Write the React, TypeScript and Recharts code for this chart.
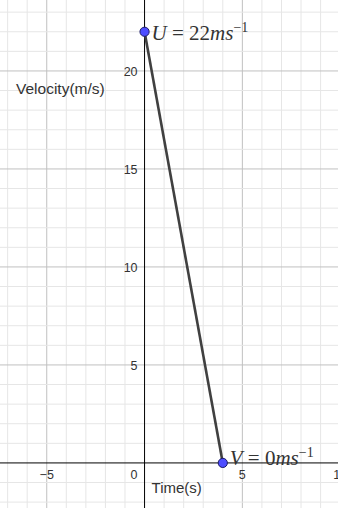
import React from "react";
import {
  ComposedChart,
  Line,
  XAxis,
  YAxis,
  ReferenceLine,
  ReferenceDot,
} from "recharts";

// motion data: (time s, velocity m/s)
const times = [0, 4];
const velocities = [22, 0];
const pointNames = ["U", "V"];

const xTickLabels = [-5, 5, 10];
const yTickLabels = [5, 10, 15, 20];
const xGrid = [-7, -6, -5, -4, -3, -2, -1, 1, 2, 3, 4, 5, 6, 7, 8, 9];
const yGrid = [-2, -1, 1, 2, 3, 4, 5, 6, 7, 8, 9, 10, 11, 12, 13, 14, 15, 16, 17, 18, 19, 20, 21, 22, 23];

const X_DOMAIN: [number, number] = [-7.39, 9.89];
const Y_DOMAIN: [number, number] = [-2.3, 23.62];

const sans = "Arial, 'Liberation Sans', sans-serif";
const serif = "'Liberation Serif', 'Times New Roman', serif";

const data = times.map((t, i) => ({ t, v: velocities[i] }));

const gridColor = (n: number) => (n % 5 === 0 ? "#c0c0c0" : "#e6e6e6");

// latex-ish label next to a point, e.g. U = 22ms^-1
function MathLabel({ cx, cy, dy, name, value }: any) {
  return (
    <text x={cx + 7} y={cy + dy} fontFamily={serif} fontSize={21} fill="#333">
      <tspan fontStyle="italic">{name}</tspan>
      <tspan> = {value}</tspan>
      <tspan fontStyle="italic">ms</tspan>
      <tspan fontSize={14} dy={-8}>
        −1
      </tspan>
    </text>
  );
}

export default function App() {
  return (
    <div
      style={{
        position: "absolute",
        left: 0,
        top: 0,
        width: 338,
        height: 508,
        background: "#fff",
      }}
    >
      <ComposedChart
        width={338}
        height={508}
        data={data}
        margin={{ top: 0, right: 0, left: 0, bottom: 0 }}
      >
        <XAxis dataKey="t" type="number" domain={X_DOMAIN} hide allowDataOverflow />
        <YAxis type="number" domain={Y_DOMAIN} hide allowDataOverflow />

        {xGrid.map((x) => (
          <ReferenceLine key={`gx${x}`} x={x} stroke={gridColor(x)} strokeWidth={1} />
        ))}
        {yGrid.map((y) => (
          <ReferenceLine key={`gy${y}`} y={y} stroke={gridColor(y)} strokeWidth={1} />
        ))}
        <ReferenceLine x={0} stroke="#000" strokeWidth={1} />
        <ReferenceLine y={0} stroke="#000" strokeWidth={1} />

        {xTickLabels.map((x) => (
          <ReferenceDot
            key={`lx${x}`}
            x={x}
            y={0}
            r={0}
            fill="none"
            stroke="none"
            ifOverflow="visible"
            label={(p: any) => (
              <text
                x={p.viewBox.x}
                y={p.viewBox.y + 16}
                textAnchor="middle"
                fontFamily={sans}
                fontSize={12.5}
                fill="#333"
              >
                {x < 0 ? `−${-x}` : x}
              </text>
            )}
          />
        ))}
        {yTickLabels.map((y) => (
          <ReferenceDot
            key={`ly${y}`}
            x={0}
            y={y}
            r={0}
            fill="none"
            stroke="none"
            label={(p: any) => (
              <text
                x={p.viewBox.x - 7}
                y={p.viewBox.y + 5}
                textAnchor="end"
                fontFamily={sans}
                fontSize={12.5}
                fill="#333"
              >
                {y}
              </text>
            )}
          />
        ))}
        <ReferenceDot
          x={0}
          y={0}
          r={0}
          fill="none"
          stroke="none"
          label={(p: any) => (
            <g fontFamily={sans} fill="#333">
              <text x={p.viewBox.x - 7} y={p.viewBox.y + 16} textAnchor="end" fontSize={12.5}>
                0
              </text>
              <text x={p.viewBox.x + 7} y={p.viewBox.y + 30} fontSize={15}>
                Time(s)
              </text>
            </g>
          )}
        />
        <ReferenceDot
          x={0}
          y={20}
          r={0}
          fill="none"
          stroke="none"
          label={(p: any) => (
            <text x={16} y={p.viewBox.y + 23} fontFamily={sans} fontSize={15.5} fill="#333">
              Velocity(m/s)
            </text>
          )}
        />

        {times.map((t, i) => (
          <ReferenceDot
            key={`pt${i}`}
            x={t}
            y={velocities[i]}
            r={0}
            fill="none"
            stroke="none"
            ifOverflow="visible"
            label={(p: any) => (
              <MathLabel
                cx={p.viewBox.x + p.viewBox.width / 2}
                cy={p.viewBox.y + p.viewBox.height / 2}
                dy={i === 0 ? 8 : 2}
                name={pointNames[i]}
                value={`${velocities[i]}`}
              />
            )}
          />
        ))}

        <Line
          dataKey="v"
          stroke="#404040"
          strokeWidth={2.6}
          isAnimationActive={false}
          activeDot={false}
          dot={{ r: 4.6, fill: "#4d4dff", stroke: "#1a1a66", strokeWidth: 1 }}
        />
      </ComposedChart>
    </div>
  );
}
